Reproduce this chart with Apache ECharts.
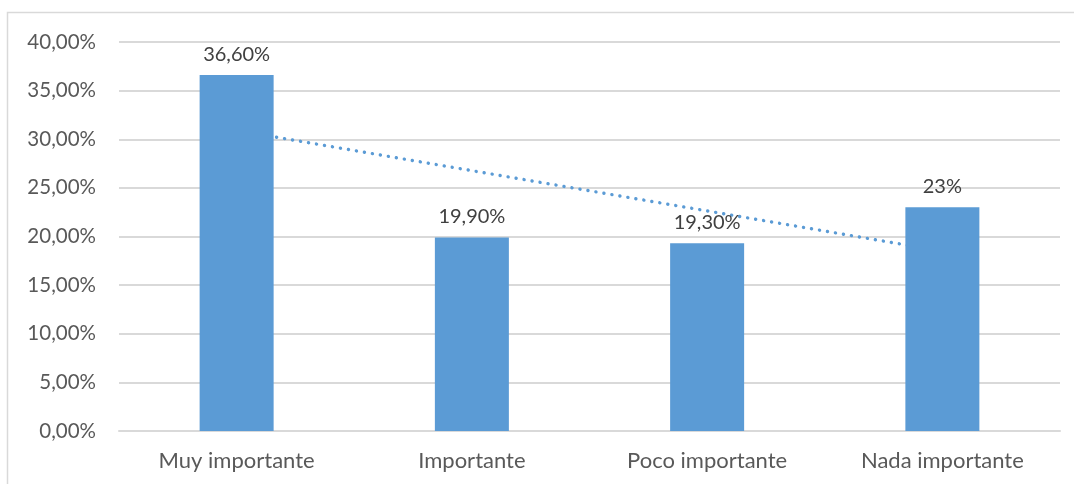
<!DOCTYPE html>
<html>
<head>
<meta charset="utf-8">
<script src="https://cdn.jsdelivr.net/npm/echarts@6/dist/echarts.min.js"></script>
<style>
  html, body { margin: 0; padding: 0; background: #fff; }
  #chart { width: 1074px; height: 484px; }
</style>
</head>
<body>
<div id="chart"></div>
<script>
// Categories and values (percent)
const categories = ['Muy importante', 'Importante', 'Poco importante', 'Nada importante'];
const values = [36.6, 19.9, 19.3, 23];
const valueLabels = ['36,60%', '19,90%', '19,30%', '23%'];
const yTicks = ['0,00%', '5,00%', '10,00%', '15,00%', '20,00%', '25,00%', '30,00%', '35,00%', '40,00%'];

// Linear trend through the bar values (least squares over x = 1..n)
function linearTrend(ys) {
  const n = ys.length;
  const xs = ys.map((_, i) => i + 1);
  const mx = xs.reduce((a, b) => a + b, 0) / n;
  const my = ys.reduce((a, b) => a + b, 0) / n;
  let sxy = 0, sxx = 0;
  for (let i = 0; i < n; i++) {
    sxy += (xs[i] - mx) * (ys[i] - my);
    sxx += (xs[i] - mx) * (xs[i] - mx);
  }
  const slope = sxy / sxx;
  return xs.map(x => my + slope * (x - mx));
}
const trend = linearTrend(values);

const font = 'Lato, "Open Sans", sans-serif';
const chart = echarts.init(document.getElementById('chart'), null, { renderer: 'canvas' });

chart.setOption({
  animation: false,
  backgroundColor: '#ffffff',
  graphic: [{
    type: 'rect',
    shape: { x: 7.5, y: 12.5, width: 1100, height: 500 },
    style: { fill: 'none', stroke: '#d9d9d9', lineWidth: 1.5 },
    silent: true
  }],
  grid: { left: 119, right: 14, top: 42, bottom: 53, containLabel: false },
  xAxis: {
    type: 'category',
    data: categories,
    axisLine: { show: true, lineStyle: { color: '#d9d9d9', width: 2 } },
    axisTick: { show: false },
    axisLabel: { color: '#595959', fontSize: 22, fontFamily: font, margin: 19 }
  },
  yAxis: {
    type: 'value',
    min: 0, max: 40, interval: 5,
    axisLine: { show: false },
    axisTick: { show: false },
    splitLine: { lineStyle: { color: '#d9d9d9', width: 2 } },
    axisLabel: {
      color: '#595959', fontSize: 20.5, fontFamily: font, margin: 23,
      formatter: (v) => yTicks[Math.round(v / 5)]
    }
  },
  series: [
    {
      type: 'line',
      data: trend,
      z: 1,
      symbol: 'none',
      silent: true,
      lineStyle: { color: '#5b9bd5', width: 3.4, type: [0.1, 8], cap: 'round' }
    },
    {
      type: 'bar',
      data: values,
      z: 2,
      barWidth: 74,
      itemStyle: { color: '#5b9bd5' },
      label: {
        show: true,
        position: 'top',
        distance: 11,
        color: '#404040',
        fontSize: 20,
        fontFamily: font,
        formatter: (p) => valueLabels[p.dataIndex]
      }
    }
  ]
});
</script>
</body>
</html>
